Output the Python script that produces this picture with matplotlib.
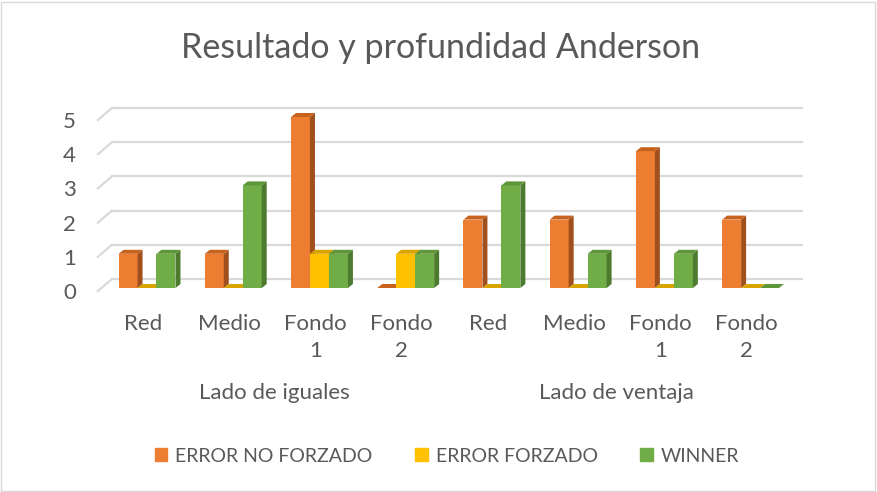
import matplotlib
matplotlib.use("Agg")
import matplotlib.pyplot as plt
import matplotlib.transforms as mtransforms
from matplotlib.patches import Polygon, Rectangle
import numpy as np

plt.rcParams['font.family'] = ['Lato', 'DejaVu Sans']

# data
categories = ['Red', 'Medio', 'Fondo\n1', 'Fondo\n2', 'Red', 'Medio', 'Fondo\n1', 'Fondo\n2']
groups = ['Lado de iguales', 'Lado de ventaja']
series = ['ERROR NO FORZADO', 'ERROR FORZADO', 'WINNER']
error_no_forzado = [1, 1, 5, 0, 2, 2, 4, 2]
error_forzado = [0, 0, 1, 1, 0, 0, 0, 0]
winner = [1, 3, 1, 1, 3, 1, 1, 0]
y_ticks = [0, 1, 2, 3, 4, 5]

front_cols = ['#ED7D31', '#FFC000', '#70AD47']
side_cols = ['#A0501C', '#B08600', '#4C7A2E']
top_cols = ['#C8621F', '#D9A300', '#5E9639']
txt = '#595959'
grid_col = '#D9D9D9'

W, H, DPI = 877, 492, 100
fig = plt.figure(figsize=(W / DPI, H / DPI), dpi=DPI)

# axes box in pixels (bar plane)
x_left, x_right = 103.9, 793.7
y_bot, y_top = 300, 100
ppu_y = 34.2
ymin = -(y_bot - 288) / ppu_y
ymax = (288 - y_top) / ppu_y
ax = fig.add_axes([x_left / W, 1 - y_bot / H, (x_right - x_left) / W, (y_bot - y_top) / H])
ax.set_xlim(-0.5, 7.5)
ax.set_ylim(ymin, ymax)
ax.axis('off')
ppu_x = (x_right - x_left) / 8.0


def shift(dx, dy):
    # pixel offset (image coords: +dy is down)
    return ax.transData + mtransforms.ScaledTranslation(dx / DPI, -dy / DPI, fig.dpi_scale_trans)


back = shift(8, -9)
front = shift(-6, 3)

# back wall + floor slants
for v in y_ticks:
    ax.plot([-0.5, 7.5], [v, v], color=grid_col, lw=1.6, transform=back, zorder=1, clip_on=False)
    p0 = front.transform((-0.5, v))
    p1 = back.transform((-0.5, v))
    fig.add_artist(plt.Line2D([p0[0] / W, p1[0] / W], [p0[1] / H, p1[1] / H],
                              color=grid_col, lw=1.6, transform=fig.transFigure))
    ax.text(-0.5, v, str(v), transform=front + mtransforms.ScaledTranslation(-0.22, -0.02, fig.dpi_scale_trans),
            ha='right', va='center', fontsize=16, color=txt)

# bars with pseudo 3d faces
bw = 0.22
ddx = 5 / ppu_x
ddy = 4 / ppu_y
x = np.arange(len(categories))
vals = [error_no_forzado, error_forzado, winner]
for i in range(len(categories)):
    for s in range(3):
        h = vals[s][i]
        x0 = x[i] + (s - 1) * bw - bw / 2
        x1 = x0 + bw
        z = 3 + i * 10 + s * 3
        ax.bar(x0, h, width=bw, align='edge', color=front_cols[s], zorder=z)
        ax.add_patch(Polygon([(x1, 0), (x1 + ddx, ddy), (x1 + ddx, h + ddy), (x1, h)],
                             closed=True, facecolor=side_cols[s], edgecolor='none', zorder=z + 1))
        ax.add_patch(Polygon([(x0, h), (x1, h), (x1 + ddx, h + ddy), (x0 + ddx, h + ddy)],
                             closed=True, facecolor=top_cols[s], edgecolor='none', zorder=z + 2))

# category labels
lab = shift(-4, 0)
for i, c in enumerate(categories):
    ax.text(x[i], ymin, c, transform=lab + mtransforms.ScaledTranslation(0, -0.14, fig.dpi_scale_trans),
            ha='center', va='top', fontsize=16, color=txt, linespacing=1.45)
for g, name in enumerate(groups):
    fig.text((274 + g * 342) / W, 1 - 393 / H, name, ha='center', va='center', fontsize=16, color=txt)

fig.text(441 / W, 1 - 48 / H, 'Resultado y profundidad Anderson', ha='center', va='center',
         fontsize=24.5, color=txt)

handles = [Rectangle((0, 0), 1, 1, color=c) for c in front_cols]
fig.legend(handles, series, loc='center', bbox_to_anchor=(447 / W, 1 - 456 / H), ncol=3,
           frameon=False, fontsize=14, labelcolor=txt, handlelength=0.65, handleheight=0.65,
           handletextpad=0.4, columnspacing=2.2)

fig.add_artist(Rectangle((1 / W, 1 / H), (W - 3) / W, (H - 3) / H, transform=fig.transFigure,
                         fill=False, edgecolor='#D9D9D9', lw=1.0))

fig.savefig('out.png', dpi=DPI)
